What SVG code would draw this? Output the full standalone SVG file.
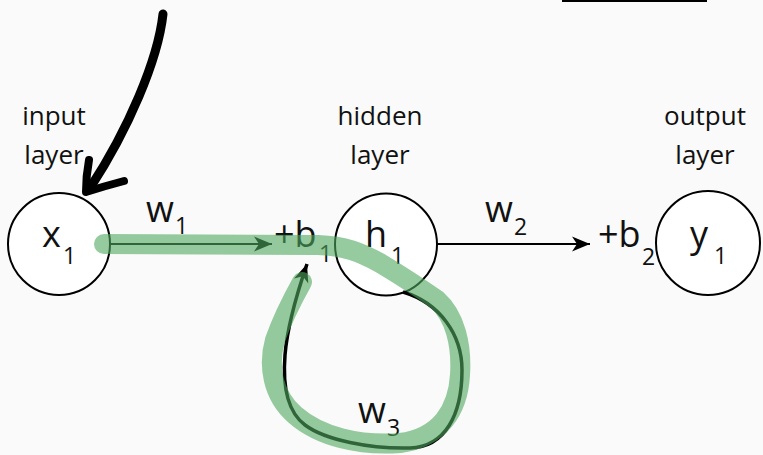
<svg xmlns="http://www.w3.org/2000/svg" width="763" height="455" viewBox="0 0 763 455">
<defs>
<style>
.lbl{font-family:"Open Sans","Liberation Sans",sans-serif;font-size:26px;fill:#111;text-anchor:middle}
.m{font-family:"Open Sans","Liberation Sans",sans-serif;font-size:36px;fill:#111}
.s{font-family:"Open Sans","Liberation Sans",sans-serif;font-size:23px;fill:#111}
.node{fill:#fff;stroke:#000;stroke-width:2}
.edge{fill:none;stroke:#000;stroke-width:2}
.hl{fill:none;stroke:#4ea85d;stroke-opacity:0.6;stroke-width:20;stroke-linecap:round;stroke-linejoin:round}
</style>
<marker id="ah" viewBox="-20 -10 22 20" refX="0" refY="0" markerWidth="22" markerHeight="20" markerUnits="userSpaceOnUse" orient="auto">
<path d="M0,0 L-18,-7.5 L-13,0 L-18,7.5 Z" fill="#000"/>
</marker>
</defs>
<rect x="0" y="0" width="763" height="455" fill="#fafafa"/>
<line x1="562" y1="1" x2="707" y2="1" stroke="#000" stroke-width="2"/>

<g id="label-input"><text class="lbl" x="54" y="125">input</text><text class="lbl" x="54" y="164">layer</text></g>
<g id="label-hidden"><text class="lbl" x="380" y="125">hidden</text><text class="lbl" x="380" y="164">layer</text></g>
<g id="label-output"><text class="lbl" x="705" y="125">output</text><text class="lbl" x="705" y="164">layer</text></g>

<g id="node-x1"><circle class="node" cx="59" cy="244" r="51"/><text class="m" x="42" y="247">x</text><text class="s" x="63" y="264">1</text></g>
<g id="node-h1"><circle class="node" cx="386" cy="244.5" r="51"/><text class="m" x="365" y="247">h</text><text class="s" x="391" y="264">1</text></g>
<g id="node-y1"><circle class="node" cx="708" cy="243" r="52"/><text class="m" x="690" y="247">y</text><text class="s" x="714" y="264">1</text></g>

<g id="connectors">
<line class="edge" x1="110" y1="244" x2="272" y2="244" marker-end="url(#ah)"/>
<line class="edge" x1="437" y1="244" x2="590" y2="244" marker-end="url(#ah)"/>
<path class="edge" style="stroke-width:3.5" d="M403,292 C440,303 462,335 462,370 C462,415 445,447 410,448 C370,449 325,440 305,425 C285,410 283,380 285,355 C287,330 293,305 307,264" marker-end="url(#ah)"/>
<path d="M163,14 C158,60 128,130 90,188" fill="none" stroke="#000" stroke-width="9" stroke-linecap="round"/>
<path d="M89,160 Q86,176 86,192 Q105,186 124,181" fill="none" stroke="#000" stroke-width="8" stroke-linecap="round" stroke-linejoin="round"/>
</g>

<g id="edge-labels">
<text class="m" x="146" y="222">w</text><text class="s" x="175" y="234">1</text>
<text class="m" x="485" y="222">w</text><text class="s" x="514" y="235">2</text>
<text class="m" x="358" y="423">w</text><text class="s" x="387" y="436">3</text>
<text class="m" x="274" y="247">+b</text><text class="s" x="319" y="262">1</text>
<text class="m" x="598" y="247">+b</text><text class="s" x="642" y="265">2</text>
</g>

<g id="highlight">
<path class="hl" d="M104,244 L318,245 C345,246 360,252 380,263 C400,275 420,288 437,300 C455,316 462,345 460,375 C458,410 440,438 400,443 C360,446 320,437 295,415 C272,395 268,365 275,340 C282,320 292,300 302,282"/>
</g>
</svg>
